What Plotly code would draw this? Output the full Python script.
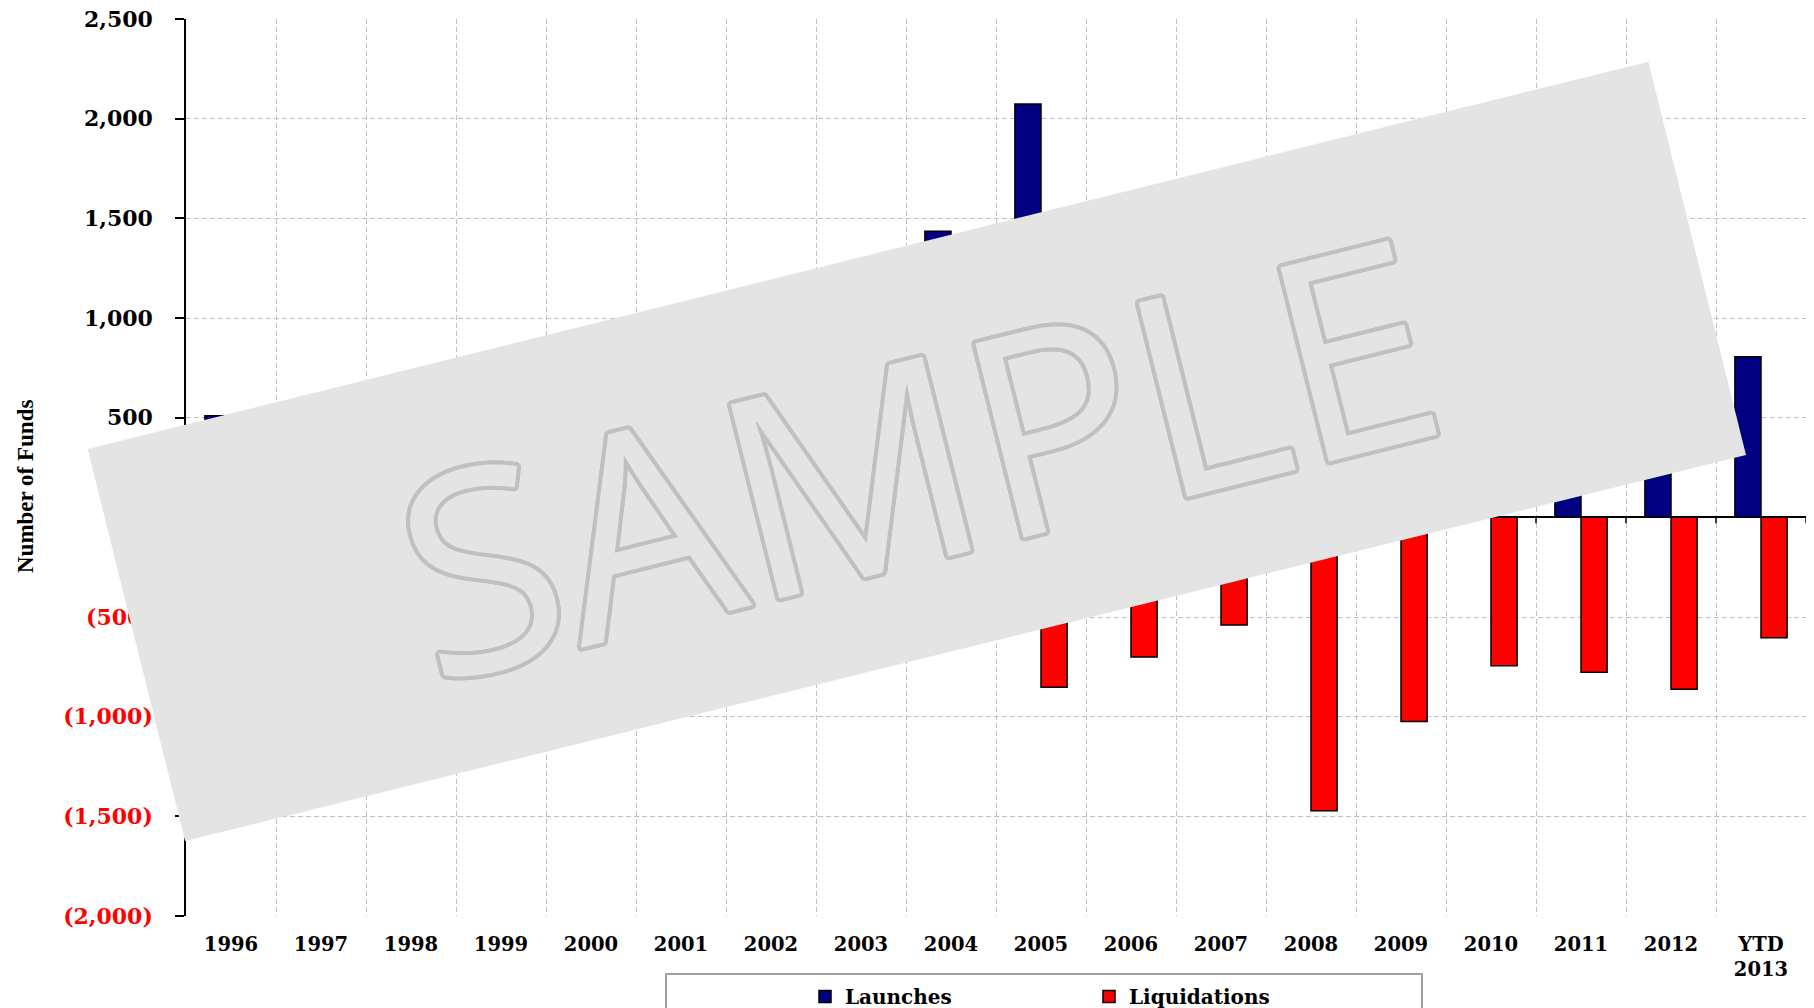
import math
import plotly.graph_objects as go

# ---- data -------------------------------------------------------------
categories = ["1996", "1997", "1998", "1999", "2000", "2001", "2002", "2003",
              "2004", "2005", "2006", "2007", "2008", "2009", "2010", "2011",
              "2012", "YTD<br>2013"]
launches = [510, 571, 545, 666, 328, 621, 1087, 1094, 1435, 2073,
            1518, 1197, 659, 784, 935, 1113, 1023, 805]
liquidations = [-344, -235, -565, -371, -566, -331, -403, -260, -296, -852,
                -701, -540, -1472, -1024, -744, -777, -862, -604]
y_tick_values = [2500, 2000, 1500, 1000, 500, 0, -500, -1000, -1500, -2000]


def fmt_count(v):
    """Accounting style: negatives in red parentheses."""
    if v < 0:
        return "<span style='color:#ff0000'>(" + f"{-v:,}" + ")</span>"
    return f"{v:,}"


y_tick_labels = [fmt_count(v) for v in y_tick_values]

# ---- layout geometry (pixels) ------------------------------------------
W, H = 1814, 1008
M_L, M_R, M_T, M_B = 186, 8, 19, 92
PLOT_W = W - M_L - M_R
PLOT_H = H - M_T - M_B


def px(xp):
    return (xp - M_L) / PLOT_W


def py(yp):
    return (M_T + PLOT_H - yp) / PLOT_H


SERIF_BOLD = dict(family="DejaVu Serif", weight="bold", color="black")

fig = go.Figure()
fig.add_trace(go.Bar(
    name="Launches", x=categories, y=launches,
    marker=dict(color="#000080", line=dict(color="black", width=1.5)),
))
fig.add_trace(go.Bar(
    name="Liquidations", x=categories, y=liquidations,
    marker=dict(color="#ff0000", line=dict(color="black", width=1.5)),
))

grid_dash = "5px,3px"
fig.update_layout(
    width=W, height=H,
    margin=dict(l=M_L, r=M_R, t=M_T, b=M_B, autoexpand=False),
    paper_bgcolor="white", plot_bgcolor="white",
    barmode="group", bargap=0.42, bargroupgap=0,
    showlegend=True,
    legend=dict(
        orientation="h", x=px(805), y=py(977), xanchor="left", yanchor="top",
        bgcolor="rgba(0,0,0,0)", borderwidth=0,
        entrywidth=239, entrywidthmode="pixels",
        font=dict(size=20, **SERIF_BOLD),
    ),
    xaxis=dict(
        type="category", tickson="boundaries", range=[-0.5, len(categories) - 0.5],
        showgrid=True, gridcolor="#c0c0c0", gridwidth=1, griddash=grid_dash,
        ticks="", showline=False, zeroline=False,
        tickfont=dict(size=19.5, **SERIF_BOLD),
        ticklabelstandoff=14,
    ),
    yaxis=dict(
        range=[-2000, 2500],
        tickvals=y_tick_values, ticktext=y_tick_labels,
        showgrid=True, gridcolor="#c0c0c0", gridwidth=1, griddash=grid_dash,
        zeroline=True, zerolinecolor="black", zerolinewidth=1.5,
        showline=True, linecolor="black", linewidth=1.5,
        ticks="outside", ticklen=9, tickwidth=1.5, tickcolor="black",
        tickfont=dict(size=22, **SERIF_BOLD),
        ticklabelstandoff=18,
    ),
)

# small tick marks hanging below the zero line at each category boundary
for k in range(1, len(categories) + 1):
    fig.add_shape(type="line", xref="x", yref="y", x0=k - 0.5, x1=k - 0.5,
                  ysizemode="pixel", yanchor=0, y0=0, y1=-6,
                  line=dict(color="black", width=1.5), layer="above")

# legend frame
fig.add_shape(type="rect", xref="paper", yref="paper",
              x0=px(666), x1=px(1422), y0=py(974), y1=py(1015),
              line=dict(color="#a0a0a0", width=2), fillcolor="white",
              layer="below")

# axis title
fig.add_annotation(text="Number of Funds", xref="paper", yref="paper",
                   x=px(25), y=py(487), xanchor="center", yanchor="middle",
                   textangle=-90, showarrow=False,
                   font=dict(family="Liberation Serif", size=23, weight="bold",
                             color="black"))

# "SAMPLE" banner across the plot
banner = [(87.7, 449.0), (1648.3, 61.7), (1746.0, 455.0), (185.0, 841.0)]
path = "M " + " L ".join(f"{px(a):.5f},{py(b):.5f}" for a, b in banner) + " Z"
fig.add_shape(type="path", xref="paper", yref="paper", path=path,
              fillcolor="#e4e4e4", line=dict(width=0), layer="above")

ring = []
for i in range(24):
    ang = 2 * math.pi * i / 24
    ring.append(f"{4 * math.cos(ang):.2f}px {4 * math.sin(ang):.2f}px 0 #c0c0c0")
fig.add_annotation(text="SAMPLE", xref="paper", yref="paper",
                   x=px(916), y=py(452), xanchor="center", yanchor="middle",
                   textangle=-14, showarrow=False,
                   font=dict(family="Open Sans", size=280, color="#e4e4e4",
                             shadow=", ".join(ring)))

fig.write_html("out.html")
